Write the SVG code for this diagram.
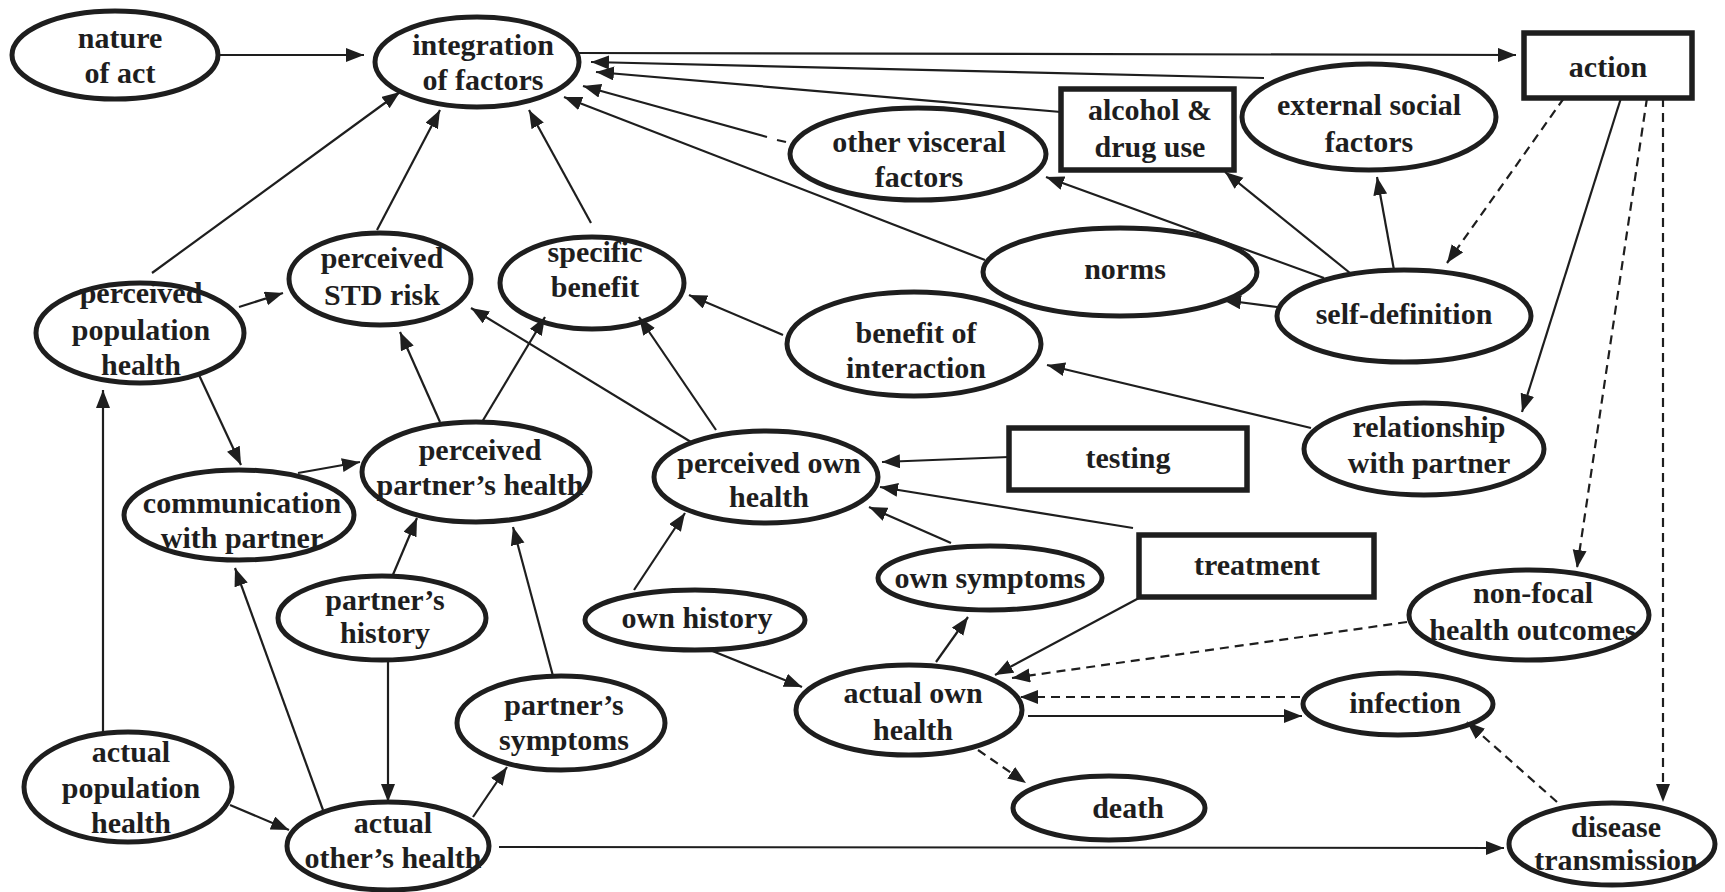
<svg xmlns="http://www.w3.org/2000/svg" width="1725" height="892" viewBox="0 0 1725 892">
<defs>
<marker id="ah" markerUnits="userSpaceOnUse" markerWidth="20" markerHeight="15" refX="18" refY="7" orient="auto">
<path d="M0,0 L18,7 L0,14 z" fill="#1e1e1e"/>
</marker>
<style>
.n ellipse{fill:none;stroke:#1e1e1e;stroke-width:5}
.n rect{fill:none;stroke:#1e1e1e;stroke-width:5.5}
.n text{font-family:"Liberation Serif","Times New Roman",serif;font-weight:bold;font-size:30px;fill:#1e1e1e;text-anchor:middle}
#edges line{stroke:#1e1e1e;stroke-width:2.2;fill:none}
#edges .a{marker-end:url(#ah)}
#edges .d{stroke-dasharray:9 6}
</style>
</defs>
<rect width="1725" height="892" fill="#ffffff"/>
<g id="edges">
<line class="a" x1="218" y1="55" x2="364" y2="55"/>
<line class="a" x1="579" y1="53" x2="1516" y2="55"/>
<line class="a" x1="1264" y1="78" x2="591" y2="62"/>
<line class="a" x1="1061" y1="112" x2="596" y2="72"/>
<line class="a" x1="767" y1="137" x2="583" y2="86"/>
<line x1="777" y1="140" x2="786" y2="142"/>
<line class="a" x1="985" y1="260" x2="564" y2="97"/>
<line class="a" x1="591" y1="223" x2="529" y2="110"/>
<line class="a" x1="377" y1="230" x2="440" y2="110"/>
<line class="a" x1="152" y1="273" x2="400" y2="92"/>
<line class="a" x1="239" y1="307" x2="283" y2="293"/>
<line class="a" x1="199" y1="375" x2="241" y2="465"/>
<line class="a" x1="103" y1="732" x2="103" y2="390"/>
<line class="a" x1="230" y1="805" x2="289" y2="830"/>
<line class="a" x1="323" y1="810" x2="235" y2="568"/>
<line class="a" x1="388" y1="660" x2="388" y2="802"/>
<line class="a" x1="392" y1="577" x2="417" y2="518"/>
<line class="a" x1="473" y1="817" x2="507" y2="767"/>
<line class="a" x1="553" y1="676" x2="513" y2="527"/>
<line class="a" x1="298" y1="473" x2="360" y2="462"/>
<line class="a" x1="440" y1="422" x2="400" y2="332"/>
<line class="a" x1="482" y1="422" x2="545" y2="317"/>
<line class="a" x1="691" y1="442" x2="471" y2="308"/>
<line class="a" x1="716" y1="430" x2="639" y2="317"/>
<line class="a" x1="783" y1="335" x2="689" y2="295"/>
<line class="a" x1="1311" y1="428" x2="1047" y2="365"/>
<line class="a" x1="1009" y1="457" x2="882" y2="462"/>
<line class="a" x1="1133" y1="528" x2="880" y2="487"/>
<line class="a" x1="951" y1="543" x2="869" y2="507"/>
<line class="a" x1="634" y1="590" x2="685" y2="513"/>
<line class="a" x1="710" y1="650" x2="802" y2="687"/>
<line class="a" x1="936" y1="662" x2="968" y2="617"/>
<line class="a" x1="1139" y1="598" x2="995" y2="675"/>
<line class="a d" x1="1407" y1="622" x2="1012" y2="678"/>
<line class="a d" x1="1300" y1="697" x2="1020" y2="697"/>
<line class="a" x1="1028" y1="716" x2="1302" y2="716"/>
<line class="a d" x1="978" y1="750" x2="1026" y2="783"/>
<line class="a" x1="499" y1="847" x2="1504" y2="848"/>
<line class="a d" x1="1557" y1="802" x2="1467" y2="722"/>
<line class="a d" x1="1663" y1="98" x2="1663" y2="802"/>
<line class="a d" x1="1647" y1="98" x2="1577" y2="568"/>
<line class="a" x1="1621" y1="98" x2="1522" y2="412"/>
<line class="a d" x1="1564" y1="98" x2="1447" y2="263"/>
<line class="a" x1="1277" y1="307" x2="1223" y2="300"/>
<line class="a" x1="1350" y1="273" x2="1225" y2="172"/>
<line class="a" x1="1394" y1="270" x2="1377" y2="177"/>
<line class="a" x1="1324" y1="278" x2="1046" y2="177"/>
</g>
<g id="nature" class="n"><ellipse cx="115" cy="55" rx="103" ry="44"/><text x="120" y="48">nature</text><text x="120" y="83">of act</text></g>
<g id="integration" class="n"><ellipse cx="477" cy="62" rx="102" ry="45"/><text x="483" y="55">integration</text><text x="483" y="90">of factors</text></g>
<g id="action" class="n"><rect x="1524" y="33" width="168" height="65"/><text x="1608" y="77">action</text></g>
<g id="alcohol" class="n"><rect x="1061" y="89" width="173" height="81"/><text x="1150" y="120">alcohol &amp;</text><text x="1150" y="157">drug use</text></g>
<g id="external" class="n"><ellipse cx="1369" cy="117" rx="127" ry="53"/><text x="1369" y="115">external social</text><text x="1369" y="152">factors</text></g>
<g id="visceral" class="n"><ellipse cx="918" cy="154" rx="128" ry="46"/><text x="919" y="152">other visceral</text><text x="919" y="187">factors</text></g>
<g id="norms" class="n"><ellipse cx="1120" cy="272" rx="137" ry="44"/><text x="1125" y="279">norms</text></g>
<g id="selfdef" class="n"><ellipse cx="1404" cy="316" rx="127" ry="46"/><text x="1404" y="324">self-definition</text></g>
<g id="specific" class="n"><ellipse cx="592" cy="283" rx="92" ry="46"/><text x="595" y="262">specific</text><text x="595" y="297">benefit</text></g>
<g id="stdrisk" class="n"><ellipse cx="380" cy="279" rx="91" ry="46"/><text x="382" y="268">perceived</text><text x="382" y="305">STD risk</text></g>
<g id="perpop" class="n"><ellipse cx="140" cy="333" rx="104" ry="50"/><text x="141" y="303">perceived</text><text x="141" y="340">population</text><text x="141" y="375">health</text></g>
<g id="benefitint" class="n"><ellipse cx="914" cy="344" rx="127" ry="52"/><text x="916" y="343">benefit of</text><text x="916" y="378">interaction</text></g>
<g id="relationship" class="n"><ellipse cx="1424" cy="449" rx="120" ry="46"/><text x="1429" y="437">relationship</text><text x="1429" y="473">with partner</text></g>
<g id="communication" class="n"><ellipse cx="239" cy="515" rx="115" ry="45"/><text x="242" y="513">communication</text><text x="242" y="548">with partner</text></g>
<g id="perpartner" class="n"><ellipse cx="476" cy="472" rx="114" ry="50"/><text x="480" y="460">perceived</text><text x="480" y="495">partner’s health</text></g>
<g id="perown" class="n"><ellipse cx="766" cy="477" rx="112" ry="46"/><text x="769" y="473">perceived own</text><text x="769" y="507">health</text></g>
<g id="testing" class="n"><rect x="1009" y="428" width="238" height="62"/><text x="1128" y="468">testing</text></g>
<g id="ownsymptoms" class="n"><ellipse cx="990" cy="578" rx="112" ry="32"/><text x="990" y="588">own symptoms</text></g>
<g id="treatment" class="n"><rect x="1139" y="535" width="235" height="62"/><text x="1257" y="575">treatment</text></g>
<g id="ownhistory" class="n"><ellipse cx="695" cy="620" rx="110" ry="30"/><text x="697" y="628">own history</text></g>
<g id="nonfocal" class="n"><ellipse cx="1529" cy="615" rx="120" ry="45"/><text x="1533" y="603">non-focal</text><text x="1533" y="640">health outcomes</text></g>
<g id="parthistory" class="n"><ellipse cx="382" cy="618" rx="104" ry="42"/><text x="385" y="610">partner’s</text><text x="385" y="643">history</text></g>
<g id="actualown" class="n"><ellipse cx="909" cy="710" rx="113" ry="45"/><text x="913" y="703">actual own</text><text x="913" y="740">health</text></g>
<g id="infection" class="n"><ellipse cx="1398" cy="704" rx="95" ry="31"/><text x="1405" y="713">infection</text></g>
<g id="partsymptoms" class="n"><ellipse cx="561" cy="723" rx="104" ry="47"/><text x="564" y="715">partner’s</text><text x="564" y="750">symptoms</text></g>
<g id="death" class="n"><ellipse cx="1109" cy="808" rx="96" ry="32"/><text x="1128" y="818">death</text></g>
<g id="actualpop" class="n"><ellipse cx="128" cy="787" rx="104" ry="55"/><text x="131" y="762">actual</text><text x="131" y="798">population</text><text x="131" y="833">health</text></g>
<g id="actualother" class="n"><ellipse cx="388" cy="846" rx="101" ry="44"/><text x="393" y="833">actual</text><text x="393" y="868">other’s health</text></g>
<g id="disease" class="n"><ellipse cx="1612" cy="844" rx="103" ry="41"/><text x="1616" y="837">disease</text><text x="1616" y="870">transmission</text></g>
</svg>
